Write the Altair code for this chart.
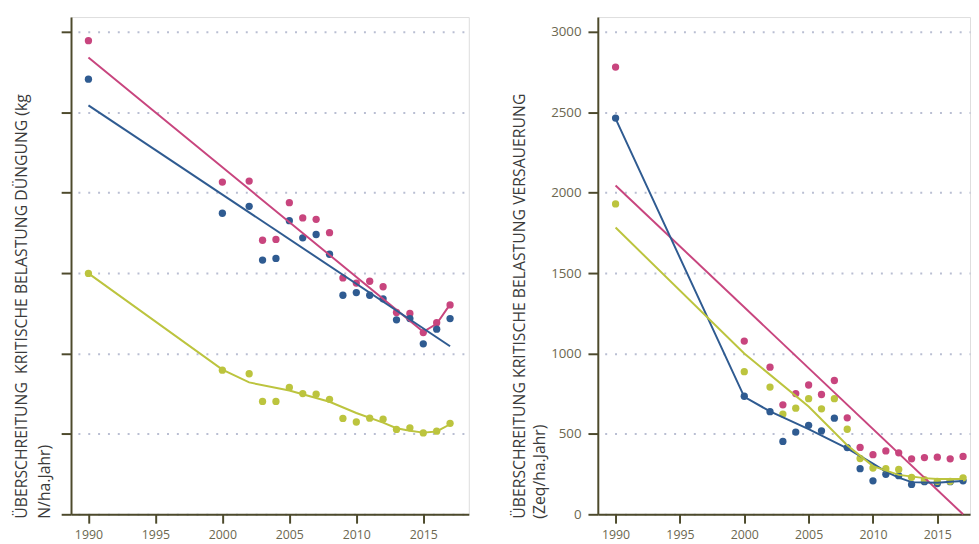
import altair as alt
import pandas as pd

# ---------------- data ----------------
years = [1990, 2000, 2002, 2003, 2004, 2005, 2006, 2007, 2008,
         2009, 2010, 2011, 2012, 2013, 2014, 2015, 2016, 2017]

# left panel (Düngung, kg N/ha.Jahr)
pink_l = [29.45, 20.66, 20.72, 17.04, 17.09, 19.38, 18.43, 18.34, 17.51,
          14.70, 14.38, 14.49, 14.15, 12.55, 12.49, 11.30, 11.91, 13.02]
blue_l = [27.06, 18.72, 19.15, 15.81, 15.91, 18.26, 17.19, 17.40, 16.17,
          13.62, 13.79, 13.62, 13.40, 12.09, 12.17, 10.60, 11.51, 12.17]
yellow_l = [14.98, 8.96, 8.74, 7.02, 7.02, 7.89, 7.51, 7.47, 7.15,
            5.96, 5.74, 5.98, 5.91, 5.28, 5.38, 5.06, 5.17, 5.66]

# left panel trend lines
pink_l_line_years = [1990, 2015, 2016, 2017]
pink_l_line = [28.4, 11.35, 11.85, 13.05]
blue_l_line_years = [1990, 2017]
blue_l_line = [25.43, 10.45]
yellow_l_line_years = [1990, 2000, 2002, 2005, 2008, 2010, 2012, 2013, 2014, 2015, 2016, 2017]
yellow_l_line = [14.98, 9.0, 8.2, 7.7, 7.0, 6.3, 5.7, 5.35, 5.2, 5.08, 5.15, 5.6]

# right panel (Versauerung, Zeq/ha.Jahr)
pink_r = [2781, 1077, 915, 681, 751, 804, 745, 832, 600,
          416, 371, 394, 382, 345, 353, 355, 345, 360]
yellow_r = [1930, 887, 791, 623, 660, 719, 656, 719, 529,
            347, 288, 284, 279, 230, 215, 205, 205, 227]
blue_r = [2464, 734, 638, 453, 511, 553, 519, 598, 415,
          284, 208, 249, 240, 186, 203, 191, 203, 208]

# right panel trend lines
pink_r_line_years = [1990, 2017]
pink_r_line = [2045, 0]
yellow_r_line_years = [1990, 2000, 2005, 2008, 2010, 2012, 2014, 2015, 2017]
yellow_r_line = [1783, 1000, 670, 430, 300, 245, 225, 220, 220]
blue_r_line_years = [1990, 2000, 2002, 2005, 2008, 2010, 2011, 2012, 2013, 2014, 2015, 2016, 2017]
blue_r_line = [2460, 730, 640, 530, 410, 315, 265, 228, 200, 198, 196, 202, 207]

series_names = ["rosa", "blau", "gelb"]
series_colors = ["#c8457e", "#2f5b91", "#bcc43e"]

x_ticks = [1990, 1995, 2000, 2005, 2010, 2015]
y_ticks_l = [0, 5, 10, 15, 20, 25, 30]
y_ticks_r = [0, 500, 1000, 1500, 2000, 2500, 3000]

title_l = ["ÜBERSCHREITUNG\u00a0 KRITISCHE BELASTUNG DÜNGUNG (kg", "N/ha.Jahr)"]
title_r = ["ÜBERSCHREITUNG KRITISCHE BELASTUNG VERSAUERUNG", "(Zeq/ha.Jahr)"]


def long_points(vals_by_series):
    rows = []
    for name, vals in zip(series_names, vals_by_series):
        for y, v in zip(years, vals):
            rows.append({"Jahr": y, "Wert": v, "Reihe": name})
    return pd.DataFrame(rows)


def long_lines(pairs):
    rows = []
    for name, (ys, vs) in zip(series_names, pairs):
        for y, v in zip(ys, vs):
            rows.append({"Jahr": y, "Wert": v, "Reihe": name})
    return pd.DataFrame(rows)


pts_l = long_points([pink_l, blue_l, yellow_l])
lines_l = long_lines([(pink_l_line_years, pink_l_line),
                      (blue_l_line_years, blue_l_line),
                      (yellow_l_line_years, yellow_l_line)])
pts_r = long_points([pink_r, blue_r, yellow_r])
lines_r = long_lines([(pink_r_line_years, pink_r_line),
                      (blue_r_line_years, blue_r_line),
                      (yellow_r_line_years, yellow_r_line)])

AXIS_COLOR = "#4d4a2c"
LABEL_COLOR = "#6b6750"
GRID_COLOR = "#b9bed2"
FONT = "Open Sans"

color = alt.Color("Reihe:N", legend=None,
                  scale=alt.Scale(domain=series_names, range=series_colors))


def x_enc(domain):
    return alt.X("Jahr:Q",
                 scale=alt.Scale(domain=domain, nice=False, zero=False),
                 axis=alt.Axis(values=x_ticks, format="d", title=None,
                               grid=False, domainColor=AXIS_COLOR, domainWidth=2,
                               tickColor=AXIS_COLOR, tickWidth=2, tickSize=9,
                               labelFont=FONT, labelFontSize=12.5,
                               labelColor=LABEL_COLOR, labelPadding=6))


def y_enc(domain, ticks, labels, title, title_x, line_h):
    return alt.Y("Wert:Q",
                 scale=alt.Scale(domain=domain, nice=False, zero=True),
                 axis=alt.Axis(values=ticks, labels=labels, format="d",
                               labelFont=FONT, labelFontSize=13.5,
                               labelColor=LABEL_COLOR, labelPadding=7,
                               domainColor=AXIS_COLOR, domainWidth=2,
                               tickColor=AXIS_COLOR, tickWidth=2, tickSize=10,
                               grid=True, gridColor=GRID_COLOR, gridWidth=2,
                               gridDash=[2, 8], gridDashOffset=-7,
                               title=title, titleFont=FONT, titleFontSize=16,
                               titleFontWeight="normal", titleColor="#3a3a3a",
                               titleAngle=270, titleAlign="left",
                               titleBaseline="top", titleX=title_x, titleY=509,
                               titleLineHeight=line_h))


def panel(pts, lines, xdom, ydom, yticks, labels, title, title_x, line_h, width):
    base_pts = alt.Chart(pts).mark_circle(size=55, opacity=1).encode(
        x=x_enc(xdom),
        y=y_enc(ydom, yticks, labels, title, title_x, line_h),
        color=color,
    )
    base_lines = alt.Chart(lines).mark_line(strokeWidth=2).encode(
        x="Jahr:Q", y="Wert:Q", color=color, detail="Reihe:N",
    )
    return alt.layer(base_pts, base_lines).properties(width=width, height=505)


left = panel(pts_l, lines_l, [1988.7, 2018.4], [0, 30.92], y_ticks_l, False,
             title_l, -58, 23.5, 404)
right = panel(pts_r, lines_r, [1988.62, 2017.54], [0, 3092], y_ticks_r, True,
              title_r, -87, 20, 378)

chart = alt.hconcat(left, right, spacing=42).properties(
    padding={"left": 5, "top": 4, "right": 0, "bottom": 0}
).configure_view(stroke=None).configure(font=FONT, background="white")

chart.save("out.html", embed_options={"renderer": "svg", "actions": False})
